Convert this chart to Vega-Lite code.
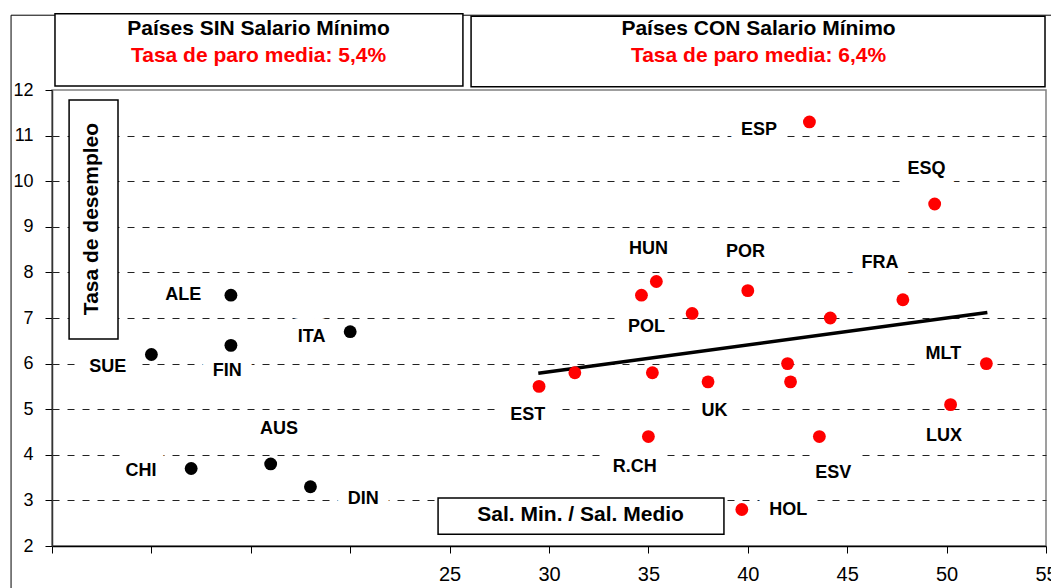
{
  "$schema": "https://vega.github.io/schema/vega-lite/v6.json",
  "width": 994,
  "height": 456,
  "autosize": {"type": "none"},
  "padding": {"left": 52, "top": 90, "right": 5, "bottom": 42},
  "background": "white",
  "config": {
    "view": {"stroke": "#808080", "strokeWidth": 1.5},
    "font": "Liberation Sans"
  },
  "datasets": {
    "frame": [{"x": 2.94, "x2": 60, "y": 13.64, "y2": -2}],
    "boxes": [
      {"box": "sin", "x": 5.15, "x2": 25.67, "y": 12.09, "y2": 13.67},
      {"box": "con", "x": 26.08, "x2": 54.95, "y": 12.07, "y2": 13.62},
      {"box": "ytitle", "x": 5.86, "x2": 8.32, "y": 6.54, "y2": 11.78},
      {"box": "xtitle", "x": 24.42, "x2": 38.8, "y": 2.26, "y2": 3.05}
    ],
    "headers": [
      {"texto": "Países SIN Salario Mínimo", "linea": "titulo", "x": 15.39, "y": 13.33},
      {"texto": "Tasa de paro media: 5,4%", "linea": "media", "x": 15.39, "y": 12.74},
      {"texto": "Países CON Salario Mínimo", "linea": "titulo", "x": 40.54, "y": 13.33},
      {"texto": "Tasa de paro media: 6,4%", "linea": "media", "x": 40.54, "y": 12.74},
      {"texto": "Sal. Min. / Sal. Medio", "linea": "titulo", "x": 31.59, "y": 2.68}
    ],
    "ytitle": [{"texto": "Tasa de desempleo", "x": 7.01, "y": 9.17}],
    "points": [
      {"pais": "SUE", "grupo": "SIN", "sal": 10.0, "paro": 6.2},
      {"pais": "ALE", "grupo": "SIN", "sal": 14.0, "paro": 7.5},
      {"pais": "FIN", "grupo": "SIN", "sal": 14.0, "paro": 6.4},
      {"pais": "ITA", "grupo": "SIN", "sal": 20.0, "paro": 6.7},
      {"pais": "CHI", "grupo": "SIN", "sal": 12.0, "paro": 3.7},
      {"pais": "AUS", "grupo": "SIN", "sal": 16.0, "paro": 3.8},
      {"pais": "DIN", "grupo": "SIN", "sal": 18.0, "paro": 3.3},
      {"pais": "ESP", "grupo": "CON", "sal": 43.1, "paro": 11.3},
      {"pais": "ESQ", "grupo": "CON", "sal": 49.4, "paro": 9.5},
      {"pais": "HUN", "grupo": "CON", "sal": 35.4, "paro": 7.8},
      {"pais": "POL", "grupo": "CON", "sal": 34.65, "paro": 7.5},
      {"pais": "LET", "grupo": "CON", "sal": 37.2, "paro": 7.1},
      {"pais": "POR", "grupo": "CON", "sal": 40.0, "paro": 7.6},
      {"pais": "FRA", "grupo": "CON", "sal": 47.8, "paro": 7.4},
      {"pais": "LIT", "grupo": "CON", "sal": 44.15, "paro": 7.0},
      {"pais": "GRE", "grupo": "CON", "sal": 42.0, "paro": 6.0},
      {"pais": "BEL", "grupo": "CON", "sal": 42.15, "paro": 5.6},
      {"pais": "MLT", "grupo": "CON", "sal": 52.0, "paro": 6.0},
      {"pais": "LUX", "grupo": "CON", "sal": 50.2, "paro": 5.1},
      {"pais": "UK", "grupo": "CON", "sal": 38.0, "paro": 5.6},
      {"pais": "IRL", "grupo": "CON", "sal": 35.2, "paro": 5.8},
      {"pais": "SLO", "grupo": "CON", "sal": 31.3, "paro": 5.8},
      {"pais": "EST", "grupo": "CON", "sal": 29.5, "paro": 5.5},
      {"pais": "R.CH", "grupo": "CON", "sal": 35.0, "paro": 4.4},
      {"pais": "ESV", "grupo": "CON", "sal": 43.6, "paro": 4.4},
      {"pais": "HOL", "grupo": "CON", "sal": 39.7, "paro": 2.8}
    ],
    "trend": [
      {"sal": 29.46, "paro": 5.79},
      {"sal": 52.05, "paro": 7.12}
    ],
    "labels": [
      {"texto": "ESP", "x": 40.56, "y": 11.12},
      {"texto": "ESQ", "x": 48.99, "y": 10.27},
      {"texto": "HUN", "x": 35.0, "y": 8.51},
      {"texto": "POR", "x": 39.89, "y": 8.45},
      {"texto": "FRA", "x": 46.65, "y": 8.2},
      {"texto": "POL", "x": 34.91, "y": 6.81},
      {"texto": "MLT", "x": 49.84, "y": 6.21},
      {"texto": "EST", "x": 28.93, "y": 4.87},
      {"texto": "UK", "x": 38.32, "y": 4.95},
      {"texto": "LUX", "x": 49.87, "y": 4.41},
      {"texto": "R.CH", "x": 34.31, "y": 3.74},
      {"texto": "ESV", "x": 44.3, "y": 3.61},
      {"texto": "HOL", "x": 42.04, "y": 2.79},
      {"texto": "ALE", "x": 11.6, "y": 7.5},
      {"texto": "ITA", "x": 18.06, "y": 6.59},
      {"texto": "SUE", "x": 7.8, "y": 5.92},
      {"texto": "FIN", "x": 13.82, "y": 5.84},
      {"texto": "AUS", "x": 16.42, "y": 4.56},
      {"texto": "CHI", "x": 9.48, "y": 3.64},
      {"texto": "DIN", "x": 20.66, "y": 3.03}
    ]
  },
  "layer": [
    {
      "data": {"name": "frame"},
      "mark": {"type": "rect", "fillOpacity": 0, "stroke": "black", "strokeWidth": 1, "clip": false},
      "encoding": {
        "x": {
          "field": "x", "type": "quantitative",
          "scale": {"domain": [5, 55], "nice": false, "zero": false},
          "axis": {
            "title": null,
            "values": [5, 10, 15, 20, 25, 30, 35, 40, 45, 50, 55],
            "labelExpr": "datum.value >= 25 ? datum.label : ''",
            "labelFlush": false,
            "labelOverlap": false,
            "grid": false,
            "domainColor": "black",
            "domainWidth": 1.5,
            "tickColor": "black",
            "tickWidth": 1,
            "tickSize": 7,
            "labelFontSize": 20,
            "labelColor": "black",
            "labelFont": "Liberation Sans",
            "labelPadding": 11
          }
        },
        "x2": {"field": "x2"},
        "y": {
          "field": "y", "type": "quantitative",
          "scale": {"domain": [2, 12], "nice": false, "zero": false},
          "axis": {
            "title": null,
            "values": [2, 3, 4, 5, 6, 7, 8, 9, 10, 11, 12],
            "grid": true,
            "gridDash": [7, 8],
            "gridColor": "#222222",
            "gridWidth": 1,
            "gridOpacity": {"condition": {"test": "datum.value == 2 || datum.value == 12", "value": 0}, "value": 1},
            "domainColor": "#333333",
            "domainWidth": 1.5,
            "tickColor": "black",
            "tickSize": 7,
            "labelFontSize": 18,
            "labelColor": "black",
            "labelFont": "Liberation Sans",
            "labelPadding": 12
          }
        },
        "y2": {"field": "y2"}
      }
    },
    {
      "data": {"name": "boxes"},
      "mark": {"type": "rect", "fill": "white", "stroke": "black", "strokeWidth": 1.5, "clip": false},
      "encoding": {
        "x": {"field": "x", "type": "quantitative"},
        "x2": {"field": "x2"},
        "y": {"field": "y", "type": "quantitative"},
        "y2": {"field": "y2"}
      }
    },
    {
      "data": {"name": "headers"},
      "mark": {"type": "text", "font": "Liberation Sans", "fontWeight": "bold", "fontSize": 21, "align": "center", "baseline": "middle", "clip": false},
      "encoding": {
        "x": {"field": "x", "type": "quantitative"},
        "y": {"field": "y", "type": "quantitative"},
        "text": {"field": "texto"},
        "color": {"field": "linea", "type": "nominal", "scale": {"domain": ["titulo", "media"], "range": ["#000000", "#FF0000"]}, "legend": null}
      }
    },
    {
      "data": {"name": "ytitle"},
      "mark": {"type": "text", "font": "Liberation Sans", "fontWeight": "bold", "fontSize": 21, "angle": 270, "align": "center", "baseline": "middle", "color": "black"},
      "encoding": {
        "x": {"field": "x", "type": "quantitative"},
        "y": {"field": "y", "type": "quantitative"},
        "text": {"field": "texto"}
      }
    },
    {
      "data": {"name": "labels"},
      "mark": {"type": "text", "font": "Liberation Sans", "fontWeight": "bold", "fontSize": 18, "align": "center", "baseline": "middle", "color": "white", "stroke": "white", "strokeWidth": 22, "strokeJoin": "round"},
      "encoding": {
        "x": {"field": "x", "type": "quantitative"},
        "y": {"field": "y", "type": "quantitative"},
        "text": {"field": "texto"}
      }
    },
    {
      "data": {"name": "trend"},
      "mark": {"type": "line", "color": "black", "strokeWidth": 3.5},
      "encoding": {
        "x": {"field": "sal", "type": "quantitative"},
        "y": {"field": "paro", "type": "quantitative"}
      }
    },
    {
      "data": {"name": "points"},
      "mark": {"type": "circle", "size": 165, "opacity": 1},
      "encoding": {
        "x": {"field": "sal", "type": "quantitative"},
        "y": {"field": "paro", "type": "quantitative"},
        "color": {"field": "grupo", "type": "nominal", "scale": {"domain": ["SIN", "CON"], "range": ["#000000", "#FF0000"]}, "legend": null}
      }
    },
    {
      "data": {"name": "labels"},
      "mark": {"type": "text", "font": "Liberation Sans", "fontWeight": "bold", "fontSize": 18, "align": "center", "baseline": "middle", "color": "black"},
      "encoding": {
        "x": {"field": "x", "type": "quantitative"},
        "y": {"field": "y", "type": "quantitative"},
        "text": {"field": "texto"}
      }
    }
  ],
  "resolve": {"scale": {"color": "independent"}}
}
